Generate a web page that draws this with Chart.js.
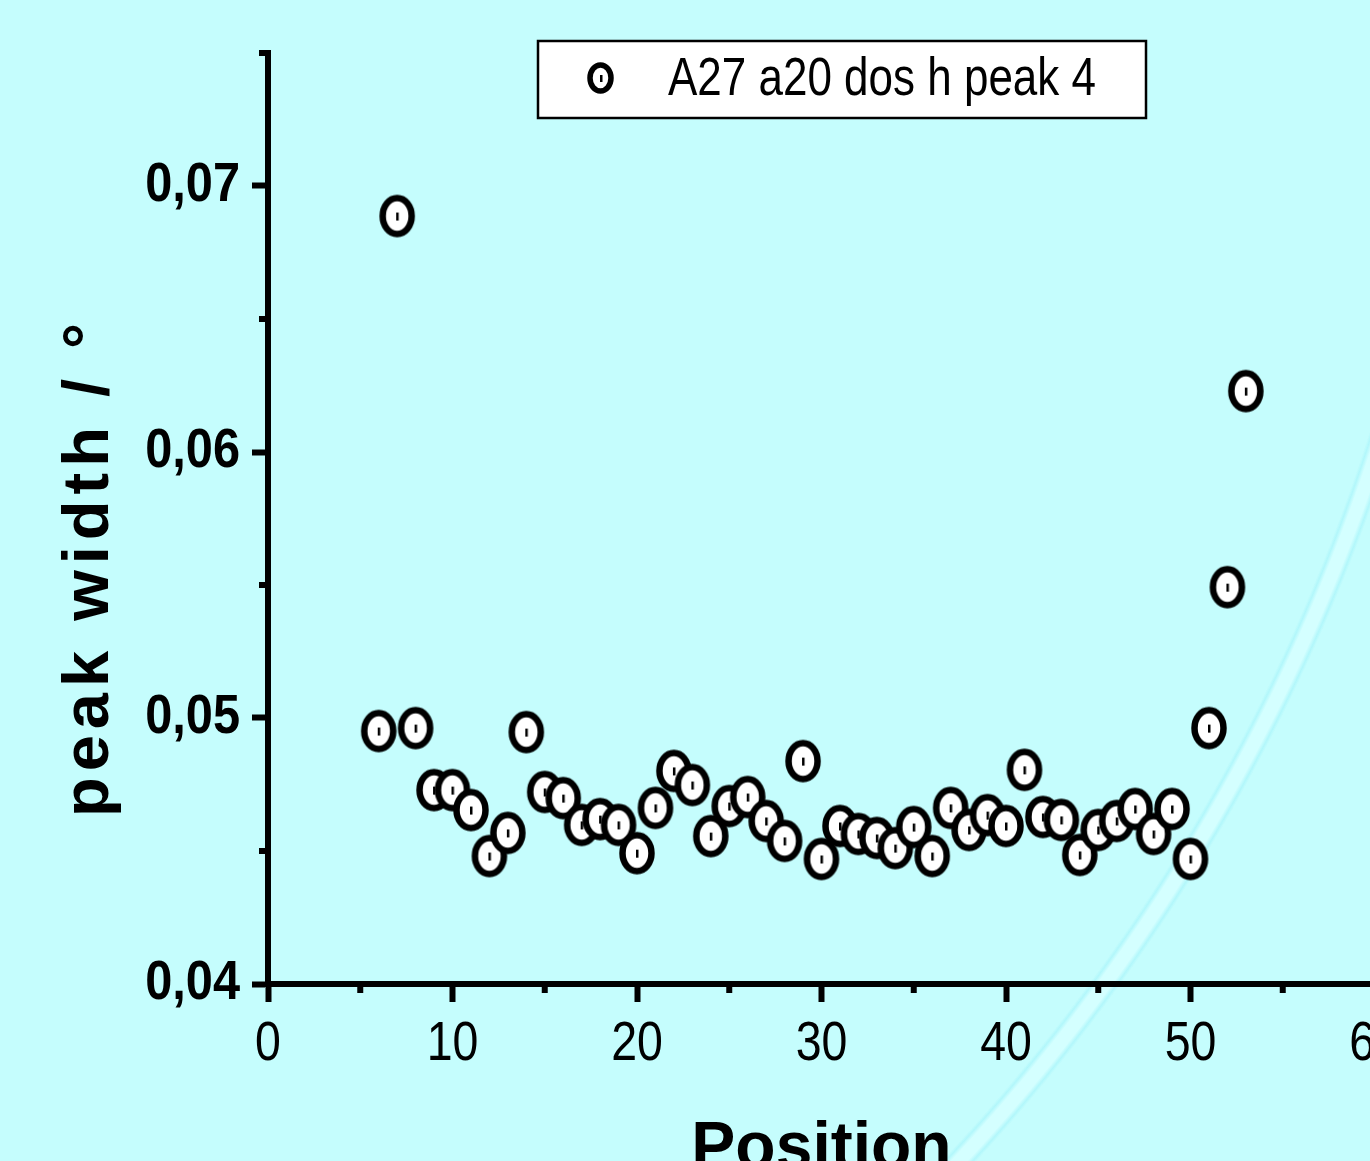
<!DOCTYPE html>
<html>
<head>
<meta charset="utf-8">
<script src="https://cdn.jsdelivr.net/npm/chart.js@4.4.1/dist/chart.umd.min.js"></script>
<style>
  html, body {
    margin: 0;
    padding: 0;
    width: 1370px;
    height: 1161px;
    overflow: hidden;
  }
  body {
    background-color: #c5fdfd;
    background-image: radial-gradient(circle at -450px -146px,
      rgba(0,0,0,0) 1909px, #b2f7fb 1912px, #d4ffff 1916px, #d4ffff 1928px, #b2f7fb 1932px, rgba(0,0,0,0) 1935px);
  }
  #wrap { position: absolute; left: 0; top: 0; width: 1420px; height: 1161px; }
</style>
</head>
<body>
<div id="wrap"><canvas id="peakChart" width="1420" height="1161"></canvas></div>
<script>
// measured values, A27 a20 dos h, peak 4
var positions = [6, 7, 8, 9, 10, 11, 12, 13, 14, 15, 16, 17, 18, 19, 20, 21, 22, 23, 24, 25, 26, 27, 28, 29,
  30, 31, 32, 33, 34, 35, 36, 37, 38, 39, 40, 41, 42, 43, 44, 45, 46, 47, 48, 49, 50, 51, 52, 53];
var peakWidths = [0.04951, 0.06887, 0.04962, 0.04729, 0.04729, 0.04654, 0.04481, 0.04568, 0.04947, 0.04722,
  0.04699, 0.04598, 0.04620, 0.04598, 0.04492, 0.04662, 0.04801, 0.04748, 0.04556, 0.04669, 0.04703, 0.04613,
  0.04538, 0.04838, 0.04470, 0.04594, 0.04564, 0.04549, 0.04511, 0.04590, 0.04481, 0.04662, 0.04579, 0.04635,
  0.04594, 0.04805, 0.04628, 0.04617, 0.04485, 0.04579, 0.04613, 0.04658, 0.04564, 0.04658, 0.04470, 0.04962,
  0.05492, 0.06229];
var seriesName = "A27 a20 dos h peak 4";
var xTitle = "Position";
var yTitle = "peak width / °";
var xMinorTicks = [5, 15, 25, 35, 45, 55];
var yMinorTicks = [0.045, 0.055, 0.065, 0.075];

var narrow = "'Liberation Sans Narrow', 'Liberation Sans', Arial, sans-serif";
var wide = "'Liberation Sans', Arial, sans-serif";

var canvas = document.getElementById("peakChart");
var ctx2d = canvas.getContext("2d");

// no narrow font installed: squeeze text set in the narrow family
var baseFillText = ctx2d.fillText;
ctx2d.fillText = function (text, x, y, maxWidth) {
  var f = this.font;
  if (f.indexOf("Narrow") >= 0) {
    var k = (f.indexOf("bold") >= 0 || f.indexOf("700") >= 0) ? 0.87 : 0.83;
    var w = this.measureText(text).width * k;
    maxWidth = maxWidth === undefined ? w : Math.min(maxWidth, w);
  }
  if (maxWidth === undefined) return baseFillText.call(this, text, x, y);
  return baseFillText.call(this, text, x, y, maxWidth);
};

// open circle with a small dot in the middle, like the Origin marker
function makeMarker(rx, ry, lw, dotH) {
  var c = document.createElement("canvas");
  c.width = Math.ceil(rx * 2 + lw + 2);
  c.height = Math.ceil(ry * 2 + lw + 2);
  var g = c.getContext("2d");
  g.beginPath();
  g.ellipse(c.width / 2, c.height / 2, rx, ry, 0, 0, Math.PI * 2);
  g.fillStyle = "#fff";
  g.fill();
  g.lineWidth = lw;
  g.strokeStyle = "#000";
  g.stroke();
  g.fillStyle = "#000";
  g.fillRect(Math.round(c.width / 2) - 1, Math.round(c.height / 2 - dotH / 2), 2.5, dotH);
  return c;
}

var marker = makeMarker(14.5, 18, 6.5, 8);
var legendMarker = makeMarker(10.5, 13, 5.5, 7);

var minorTicks = {
  id: "minorTicks",
  afterDraw: function (chart) {
    var ctx = chart.ctx;
    var xs = chart.scales.x, ys = chart.scales.y;
    var area = chart.chartArea;
    ctx.save();
    ctx.strokeStyle = "#000";
    ctx.lineWidth = 6;
    xMinorTicks.forEach(function (v) {
      var px = xs.getPixelForValue(v);
      ctx.beginPath();
      ctx.moveTo(px, area.bottom);
      ctx.lineTo(px, area.bottom + 9);
      ctx.stroke();
    });
    yMinorTicks.forEach(function (v) {
      var py = ys.getPixelForValue(v);
      ctx.beginPath();
      ctx.moveTo(area.left, py);
      ctx.lineTo(area.left - 9, py);
      ctx.stroke();
    });
    ctx.restore();
  }
};

var yAxisTitle = {
  id: "yAxisTitle",
  afterDraw: function (chart) {
    var ctx = chart.ctx;
    ctx.save();
    ctx.translate(108, 567);
    ctx.rotate(-Math.PI / 2);
    ctx.font = "bold 65px " + wide;
    if ("letterSpacing" in ctx) ctx.letterSpacing = "6px";
    ctx.fillStyle = "#000";
    ctx.textAlign = "center";
    ctx.textBaseline = "alphabetic";
    ctx.fillText(yTitle, 0, 0);
    ctx.restore();
  }
};

var boxLegend = {
  id: "boxLegend",
  afterDraw: function (chart) {
    var ctx = chart.ctx;
    ctx.save();
    ctx.fillStyle = "#fff";
    ctx.fillRect(538, 41, 608, 77);
    ctx.strokeStyle = "#000";
    ctx.lineWidth = 2.5;
    ctx.strokeRect(538, 41, 608, 77);
    ctx.drawImage(legendMarker, Math.round(600 - legendMarker.width / 2), Math.round(78 - legendMarker.height / 2));
    ctx.fillStyle = "#000";
    ctx.font = "53px " + narrow;
    ctx.textBaseline = "middle";
    ctx.textAlign = "left";
    ctx.fillText(seriesName, 668, 80);
    ctx.restore();
  }
};

new Chart(canvas, {
  type: "scatter",
  data: {
    datasets: [{
      label: seriesName,
      data: positions.map(function (p, i) { return { x: p, y: peakWidths[i] }; }),
      pointStyle: marker,
      pointRadius: 19,
      pointHoverRadius: 19
    }]
  },
  options: {
    responsive: false,
    animation: false,
    layout: { padding: { top: 53, right: 45, left: 0, bottom: 0 } },
    plugins: {
      legend: { display: false },
      tooltip: { enabled: false }
    },
    scales: {
      x: {
        type: "linear",
        min: 0,
        max: 60,
        ticks: {
          stepSize: 10,
          includeBounds: false,
          padding: 9,
          color: "#000",
          font: { family: narrow, size: 56 }
        },
        grid: { drawOnChartArea: false, drawTicks: true, tickLength: 18, tickWidth: 6, tickColor: "#000" },
        border: { display: true, color: "#000", width: 6 },
        title: {
          display: true,
          text: xTitle,
          color: "#000",
          font: { family: wide, size: 66, weight: "bold" },
          padding: { top: 0, bottom: -28 }
        },
        afterFit: function (scale) { scale.height = 177; }
      },
      y: {
        type: "linear",
        min: 0.04,
        max: 0.075,
        ticks: {
          stepSize: 0.01,
          includeBounds: false,
          padding: 12,
          color: "#000",
          font: { family: narrow, size: 56, weight: "bold" },
          callback: function (v) { return v.toFixed(2).replace(".", ","); }
        },
        grid: { drawOnChartArea: false, drawTicks: true, tickLength: 16, tickWidth: 6, tickColor: "#000" },
        border: { display: true, color: "#000", width: 6 },
        title: { display: false },
        afterFit: function (scale) { scale.width = 268; }
      }
    }
  },
  plugins: [minorTicks, yAxisTitle, boxLegend]
});
</script>
</body>
</html>
